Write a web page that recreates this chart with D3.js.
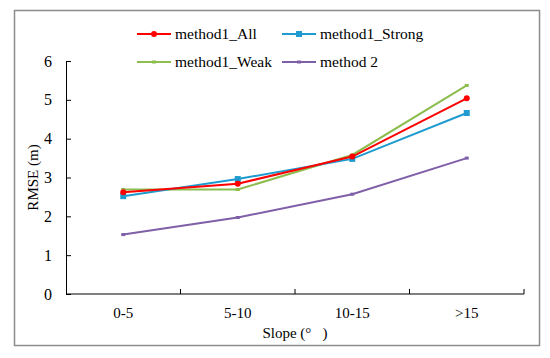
<!DOCTYPE html>
<html>
<head>
<meta charset="utf-8">
<script src="https://cdn.jsdelivr.net/npm/d3@7"></script>
<style>
  body { margin: 0; background: #fff; }
  svg { display: block; }
  svg text { font-family: "Liberation Serif", "Times New Roman", serif; fill: #000; white-space: pre; }
</style>
</head>
<body>
<svg id="chart" width="550" height="358"></svg>
<script>
const categories = ["0-5", "5-10", "10-15", ">15"];
const yTicks = [0, 1, 2, 3, 4, 5, 6];
const method1All = [2.62, 2.84, 3.54, 5.04];
const method1Strong = [2.52, 2.96, 3.48, 4.66];
const method1Weak = [2.69, 2.69, 3.58, 5.37];
const method2 = [1.53, 1.97, 2.57, 3.5];

const series = [
  { name: "method1_All", values: method1All, color: "#ff0000", marker: "circle" },
  { name: "method1_Strong", values: method1Strong, color: "#1f9bd0", marker: "square" },
  { name: "method1_Weak", values: method1Weak, color: "#8cbd4e", marker: "dash" },
  { name: "method 2", values: method2, color: "#7f5fa8", marker: "dash" }
];

const svg = d3.select("#chart");

// outer frame
svg.append("rect")
  .attr("x", 14.5).attr("y", 10.5)
  .attr("width", 525).attr("height", 335)
  .attr("fill", "none").attr("stroke", "#8c8c8c").attr("stroke-width", 1.5);

const plot = { left: 66, right: 524, top: 61, bottom: 294 };

const x = d3.scaleBand().domain(categories).range([plot.left, plot.right]);
const y = d3.scaleLinear().domain([0, 6]).range([plot.bottom, plot.top]);

// y axis, ticks pointing inward
const yAxis = svg.append("g")
  .attr("transform", `translate(${plot.left},0)`)
  .call(d3.axisLeft(y).tickValues(yTicks).tickFormat(d3.format("d"))
    .tickSizeInner(-5).tickSizeOuter(0).tickPadding(14));
yAxis.attr("font-family", null);
yAxis.select(".domain").attr("stroke", "#000");
yAxis.selectAll("line").attr("stroke", "#000");
yAxis.selectAll("text").attr("font-size", 16);

// x axis: ticks at band boundaries
const xAxis = svg.append("g").attr("transform", `translate(0,${plot.bottom})`);
xAxis.append("line")
  .attr("x1", plot.left).attr("x2", plot.right)
  .attr("stroke", "#000");
const bounds = categories.map((c) => x(c) + x.bandwidth());
xAxis.selectAll("line.tick").data(bounds).enter().append("line")
  .attr("class", "tick")
  .attr("x1", (d) => d).attr("x2", (d) => d)
  .attr("y1", 0).attr("y2", -5)
  .attr("stroke", "#000");
xAxis.selectAll("text").data(categories).enter().append("text")
  .attr("x", (d) => x(d) + x.bandwidth() / 2)
  .attr("y", 24)
  .attr("text-anchor", "middle")
  .attr("font-size", 15)
  .text((d) => d);

// axis titles
svg.append("text")
  .attr("x", (plot.left + plot.right) / 2).attr("y", 338)
  .attr("text-anchor", "middle").attr("font-size", 15)
  .text("Slope (°   )");
svg.append("text")
  .attr("transform", `translate(38,${(plot.top + plot.bottom) / 2}) rotate(-90)`)
  .attr("text-anchor", "middle").attr("font-size", 15)
  .text("RMSE (m)");

// lines
const line = d3.line()
  .x((d, i) => x(categories[i]) + x.bandwidth() / 2)
  .y((d) => y(d));

function drawMarker(g, type, color) {
  if (type === "circle") {
    g.append("circle").attr("r", 3).attr("fill", color);
  } else if (type === "square") {
    g.append("rect").attr("x", -3).attr("y", -3).attr("width", 6).attr("height", 6).attr("fill", color);
  } else {
    g.append("rect").attr("x", -2).attr("y", -1.5).attr("width", 4).attr("height", 3).attr("fill", color);
  }
}

// draw order: method 2, weak, strong, all
const drawOrder = [series[3], series[2], series[1], series[0]];
for (const s of drawOrder) {
  svg.append("path")
    .datum(s.values)
    .attr("d", line)
    .attr("fill", "none")
    .attr("stroke", s.color)
    .attr("stroke-width", 2);
  s.values.forEach((v, i) => {
    const g = svg.append("g")
      .attr("transform", `translate(${x(categories[i]) + x.bandwidth() / 2},${y(v)})`);
    drawMarker(g, s.marker, s.color);
  });
}

// legend
const legendPos = [
  { x: 137, y: 34 }, { x: 282, y: 34 },
  { x: 137, y: 62 }, { x: 282, y: 62 }
];
series.forEach((s, i) => {
  const p = legendPos[i];
  const g = svg.append("g").attr("transform", `translate(${p.x},${p.y})`);
  g.append("line").attr("x1", 0).attr("x2", 34)
    .attr("stroke", s.color).attr("stroke-width", 2);
  drawMarker(g.append("g").attr("transform", "translate(17,0)"), s.marker, s.color);
  g.append("text").attr("x", 38).attr("y", 5)
    .attr("font-size", 15.5).text(s.name);
});
</script>
</body>
</html>
